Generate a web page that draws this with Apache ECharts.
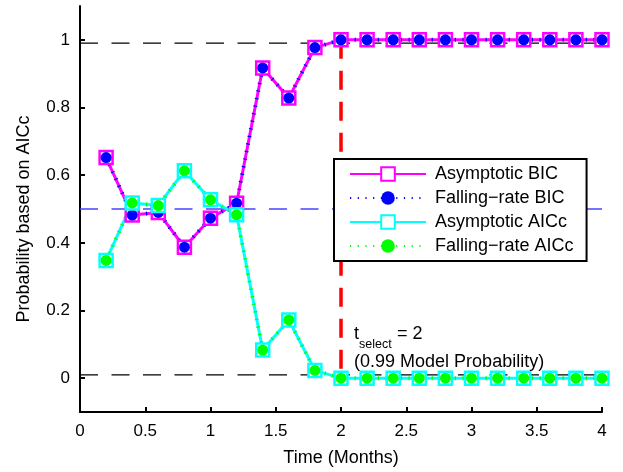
<!DOCTYPE html>
<html><head><meta charset="utf-8">
<script src="https://cdn.jsdelivr.net/npm/echarts@6/dist/echarts.min.js"></script>
<style>html,body{margin:0;padding:0;background:#fff}#c{width:623px;height:472px}</style>
</head><body><div id="c"></div>
<script>
// ---- data ----
const times = [0.2,0.4,0.6,0.8,1.0,1.2,1.4,1.6,1.8,2.0,2.2,2.4,2.6,2.8,3.0,3.2,3.4,3.6,3.8,4.0];
const asymBIC  = [0.652,0.482,0.490,0.387,0.473,0.517,0.917,0.828,0.977,1,1,1,1,1,1,1,1,1,1,1];
const fallBIC  = [0.652,0.482,0.490,0.387,0.473,0.517,0.917,0.828,0.977,1,1,1,1,1,1,1,1,1,1,1];
const asymAICc = [0.348,0.518,0.510,0.613,0.527,0.483,0.083,0.172,0.023,0,0,0,0,0,0,0,0,0,0,0];
const fallAICc = [0.348,0.518,0.510,0.613,0.527,0.483,0.083,0.172,0.023,0,0,0,0,0,0,0,0,0,0,0];
const yTickValues = [0,0.2,0.4,0.6,0.8,1];
const xRange = [0,4];
const yRange = [-0.1,1.1];
const thresholdHigh = 0.99, thresholdLow = 0.01, chanceLevel = 0.5;
const tSelect = 2, tSelectTop = 1;
const annotAnchor = [2.1, 0.13];

const FONT = "'Liberation Sans', Arial, Helvetica, sans-serif";
const pair = (xs, ys) => xs.map((x,i)=>[x, ys[i]]);

const chart = echarts.init(document.getElementById('c'), null, {renderer:'canvas'});
const refLine = (name, data, color, width, dash) => ({
  name, type:'line', data, symbol:'none', silent:true, z:1,
  lineStyle:{color, width, type:dash}, animation:false
});

chart.setOption({
  animation:false,
  backgroundColor:'#fff',
  textStyle:{fontFamily:FONT},
  grid:{left:80, right:21, top:6, bottom:58.7, containLabel:false},
  xAxis:{
    type:'value', min:xRange[0], max:xRange[1], interval:0.5,
    name:'Time (Months)', nameLocation:'middle', nameGap:37,
    nameTextStyle:{fontSize:18, color:'#000', fontFamily:FONT},
    axisLine:{show:true, onZero:false, lineStyle:{color:'#000', width:2}},
    axisTick:{show:true, inside:true, length:5, lineStyle:{color:'#000', width:2}},
    axisLabel:{color:'#000', fontSize:17, margin:11, fontFamily:FONT},
    splitLine:{show:false}
  },
  yAxis:{
    type:'value', min:yRange[0], max:yRange[1],
    axisLine:{show:true, onZero:false, lineStyle:{color:'#000', width:2}},
    axisTick:{show:true, inside:true, length:5, customValues:yTickValues, lineStyle:{color:'#000', width:2}},
    axisLabel:{color:'#000', fontSize:17, margin:10, customValues:yTickValues, fontFamily:FONT},
    splitLine:{show:false}
  },
  legend:{
    orient:'vertical', left:334, top:159,
    data:['Asymptotic BIC','Falling\u2212rate BIC','Asymptotic AICc','Falling\u2212rate AICc'],
    backgroundColor:'#fff', borderColor:'#000', borderWidth:2, borderRadius:0,
    padding:[6,13,6,15], itemWidth:76, itemHeight:17, itemGap:6,
    textStyle:{fontSize:18, color:'#000', fontFamily:FONT, padding:[0,0,0,4]}
  },
  series:[
    refLine('hi', [[xRange[0],thresholdHigh],[xRange[1],thresholdHigh]], '#000', 1.3, [18,13.5]),
    refLine('lo', [[xRange[0],thresholdLow],[xRange[1],thresholdLow]], '#000', 1.3, [18,13.5]),
    refLine('mid', [[xRange[0],chanceLevel],[xRange[1],chanceLevel]], '#4646ff', 1.5, [18,13.5]),
    refLine('sel', [[tSelect,tSelectTop],[tSelect,thresholdLow]], '#ff0000', 3.5, [19,12]),
    {
      name:'Asymptotic BIC', type:'line', data:pair(times, asymBIC), z:2,
      symbol:'rect', symbolSize:13,
      lineStyle:{color:'#ff00ff', width:3},
      itemStyle:{color:'#fff', borderColor:'#ff00ff', borderWidth:2.5}
    },
    {
      name:'Falling\u2212rate BIC', type:'line', data:pair(times, fallBIC), z:2,
      symbol:'circle', symbolSize:11,
      lineStyle:{color:'#0000ff', width:4, type:[1.2,6.5]},
      itemStyle:{color:'#0000ff', borderWidth:0}
    },
    {
      name:'Asymptotic AICc', type:'line', data:pair(times, asymAICc), z:2,
      symbol:'rect', symbolSize:13,
      lineStyle:{color:'#00ffff', width:3},
      itemStyle:{color:'#fff', borderColor:'#00ffff', borderWidth:2.5}
    },
    {
      name:'Falling\u2212rate AICc', type:'line', data:pair(times, fallAICc), z:2,
      symbol:'circle', symbolSize:11,
      lineStyle:{color:'#00ff00', width:4, type:[1.2,6.5]},
      itemStyle:{color:'#00ff00', borderWidth:0}
    }
  ]
});

// y-axis title and annotation text
const p = chart.convertToPixel({gridIndex:0}, annotAnchor);
const ax = p[0], ay = p[1];
chart.setOption({
  graphic:[
    {type:'text', x:24.5, y:219, rotation:Math.PI/2, z:100,
     style:{text:'Probability based on AICc', fontSize:18, fontFamily:FONT, fill:'#000', align:'center', verticalAlign:'middle'}},
    {type:'text', x:ax, y:ay, z:100,
     style:{text:'t', fontSize:18, fontFamily:FONT, fill:'#000', align:'left', verticalAlign:'middle'}},
    {type:'text', x:ax+5, y:ay+10, z:100,
     style:{text:'select', fontSize:12.5, fontFamily:FONT, fill:'#000', align:'left', verticalAlign:'middle'}},
    {type:'text', x:ax+43, y:ay, z:100,
     style:{text:'= 2', fontSize:18, fontFamily:FONT, fill:'#000', align:'left', verticalAlign:'middle'}},
    {type:'text', x:ax, y:ay+28, z:100,
     style:{text:'(0.99 Model Probability)', fontSize:18, fontFamily:FONT, fill:'#000', align:'left', verticalAlign:'middle'}}
  ]
});
</script>
</body></html>
